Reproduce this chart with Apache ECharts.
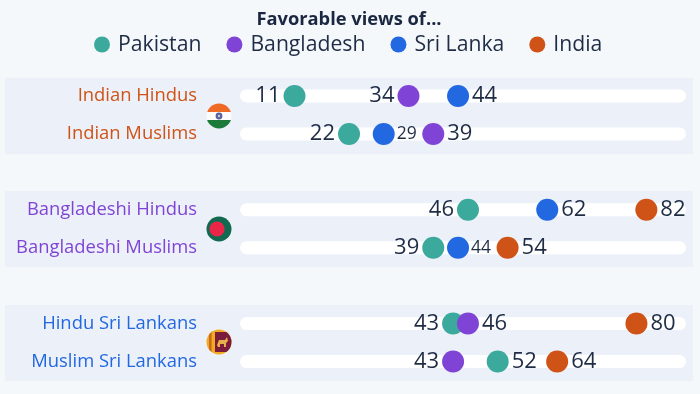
<!DOCTYPE html>
<html>
<head>
<meta charset="utf-8">
<style>
  html, body { margin: 0; padding: 0; background: #f5f8fb; }
  #chart { width: 700px; height: 394px; }
</style>
</head>
<body>
<div id="chart"></div>
<script src="https://cdn.jsdelivr.net/npm/echarts@6/dist/echarts.min.js"></script>
<script>
// blank entries are the gaps between the country groups
const categories = ["Indian Hindus", "Indian Muslims", "", "Bangladeshi Hindus", "Bangladeshi Muslims", " ", "Hindu Sri Lankans", "Muslim Sri Lankans"];
const seriesNames = ["Pakistan", "Bangladesh", "Sri Lanka", "India"];
const pakistan = [11, 22, null, 46, 39, null, 43, 52];
const bangladesh = [34, 39, null, null, null, null, 46, 43];
const sriLanka = [44, 29, null, 62, 44, null, null, null];
const india = [null, null, null, 82, 54, null, 80, 64];
const trackEnd = [90, 90, null, 90, 90, null, 90, 90];

const colors = { Pakistan: "#3ba99c", Bangladesh: "#7f44d6", "Sri Lanka": "#2268e0", India: "#cf5317" };
const rowColors = [colors.India, colors.India, "", colors.Bangladesh, colors.Bangladesh, "", colors["Sri Lanka"], colors["Sri Lanka"]];
const textColor = "#1f2c45";

// which labels sit left of the dot / are squeezed smaller
const leftLabels = { Pakistan: [0, 1, 3, 4, 6], Bangladesh: [0, 7], "Sri Lanka": [], India: [] };
const smallLabels = { Pakistan: [], Bangladesh: [], "Sri Lanka": [1, 4], India: [] };

function flagImage(svg) {
  return "data:image/svg+xml;charset=utf-8," + encodeURIComponent(svg);
}
const head = '<svg xmlns="http://www.w3.org/2000/svg" width="26" height="26" viewBox="0 0 26 26"><defs><clipPath id="c"><circle cx="13" cy="13" r="12.5"/></clipPath></defs><g clip-path="url(#c)">';
const flagIndia = flagImage(head + '<rect width="26" height="9" fill="#ee6a25"/><rect y="9" width="26" height="8" fill="#fbfbfb"/><rect y="17" width="26" height="9" fill="#1c7a3a"/><circle cx="13" cy="13" r="3.4" fill="#5a5f9a"/><circle cx="13" cy="13" r="1.2" fill="#c9cbe0"/></g></svg>');
const flagBangladesh = flagImage(head + '<rect width="26" height="26" fill="#11694f"/><circle cx="11" cy="13" r="7.6" fill="#ea2648"/></g></svg>');
const flagSriLanka = flagImage(head + '<rect width="26" height="26" fill="#f2ab20"/><rect x="3" y="2" width="2.6" height="22" fill="#c96b1a"/><rect x="9" y="3" width="17" height="20" fill="#7c1c3c"/><path d="M11 16 L13 11 L19 11 L21 8 L22 12 L20 14 L20 18 L18 18 L18 15 L14 15 L14 18 L12 18 Z" fill="#e6b04a"/></g></svg>');

function band(y) {
  return { type: "rect", z: -1, shape: { x: 5, y: y, width: 688, height: 76 }, style: { fill: "#ecf0f8" } };
}
function flag(img, y) {
  return { type: "image", z: 5, style: { image: img, x: 206, y: y, width: 26, height: 26 } };
}

function dotSeries(name, values) {
  return {
    name: name,
    type: "scatter",
    symbolSize: 22,
    itemStyle: { color: colors[name], opacity: 1 },
    data: values.map(function (v, i) {
      if (v === null) return null;
      const small = smallLabels[name].indexOf(i) >= 0;
      return {
        value: [v, categories[i]],
        label: {
          show: true,
          position: leftLabels[name].indexOf(i) >= 0 ? "left" : "right",
          distance: small ? 2 : 3,
          fontSize: small ? 17.5 : 22,
          color: textColor,
          fontFamily: "Open Sans",
          formatter: String(v)
        }
      };
    }).filter(function (d) { return d !== null; })
  };
}

const myChart = echarts.init(document.getElementById("chart"));
const option = {
  animation: false,
  backgroundColor: "#f5f8fb",
  title: {
    text: "Favorable views of...",
    left: 344,
    top: 6,
    textAlign: "center",
    textStyle: { fontFamily: "Open Sans", fontSize: 18.3, fontWeight: "bold", color: "#1a2740" }
  },
  legend: {
    top: 29,
    left: 89,
    icon: "circle",
    itemWidth: 16,
    itemHeight: 16,
    itemGap: 25,
    data: seriesNames,
    textStyle: { fontFamily: "Open Sans", fontSize: 21.2, color: textColor, padding: [0, 0, 0, 3] }
  },
  grid: { left: 240, right: 14, top: 77, height: 303.5 },
  xAxis: { type: "value", min: 0, max: 90, show: false },
  yAxis: {
    type: "category",
    inverse: true,
    data: categories,
    axisLine: { show: false },
    axisTick: { show: false },
    axisLabel: {
      margin: 43,
      fontFamily: "Open Sans",
      fontSize: 18.4,
      padding: [0, 0, 2, 0],
      interval: 0,
      color: function (value, index) { return rowColors[index] || textColor; }
    }
  },
  graphic: [band(78), band(191), band(305), flag(flagIndia, 103), flag(flagBangladesh, 216), flag(flagSriLanka, 329)],
  series: [
    {
      type: "bar",
      barWidth: 13,
      silent: true,
      z: 1,
      legendHoverLink: false,
      itemStyle: { color: "#ffffff", borderRadius: 6.5 },
      data: trackEnd
    },
    dotSeries("Pakistan", pakistan),
    dotSeries("Bangladesh", bangladesh),
    dotSeries("Sri Lanka", sriLanka),
    dotSeries("India", india)
  ]
};
myChart.setOption(option);
</script>
</body>
</html>
